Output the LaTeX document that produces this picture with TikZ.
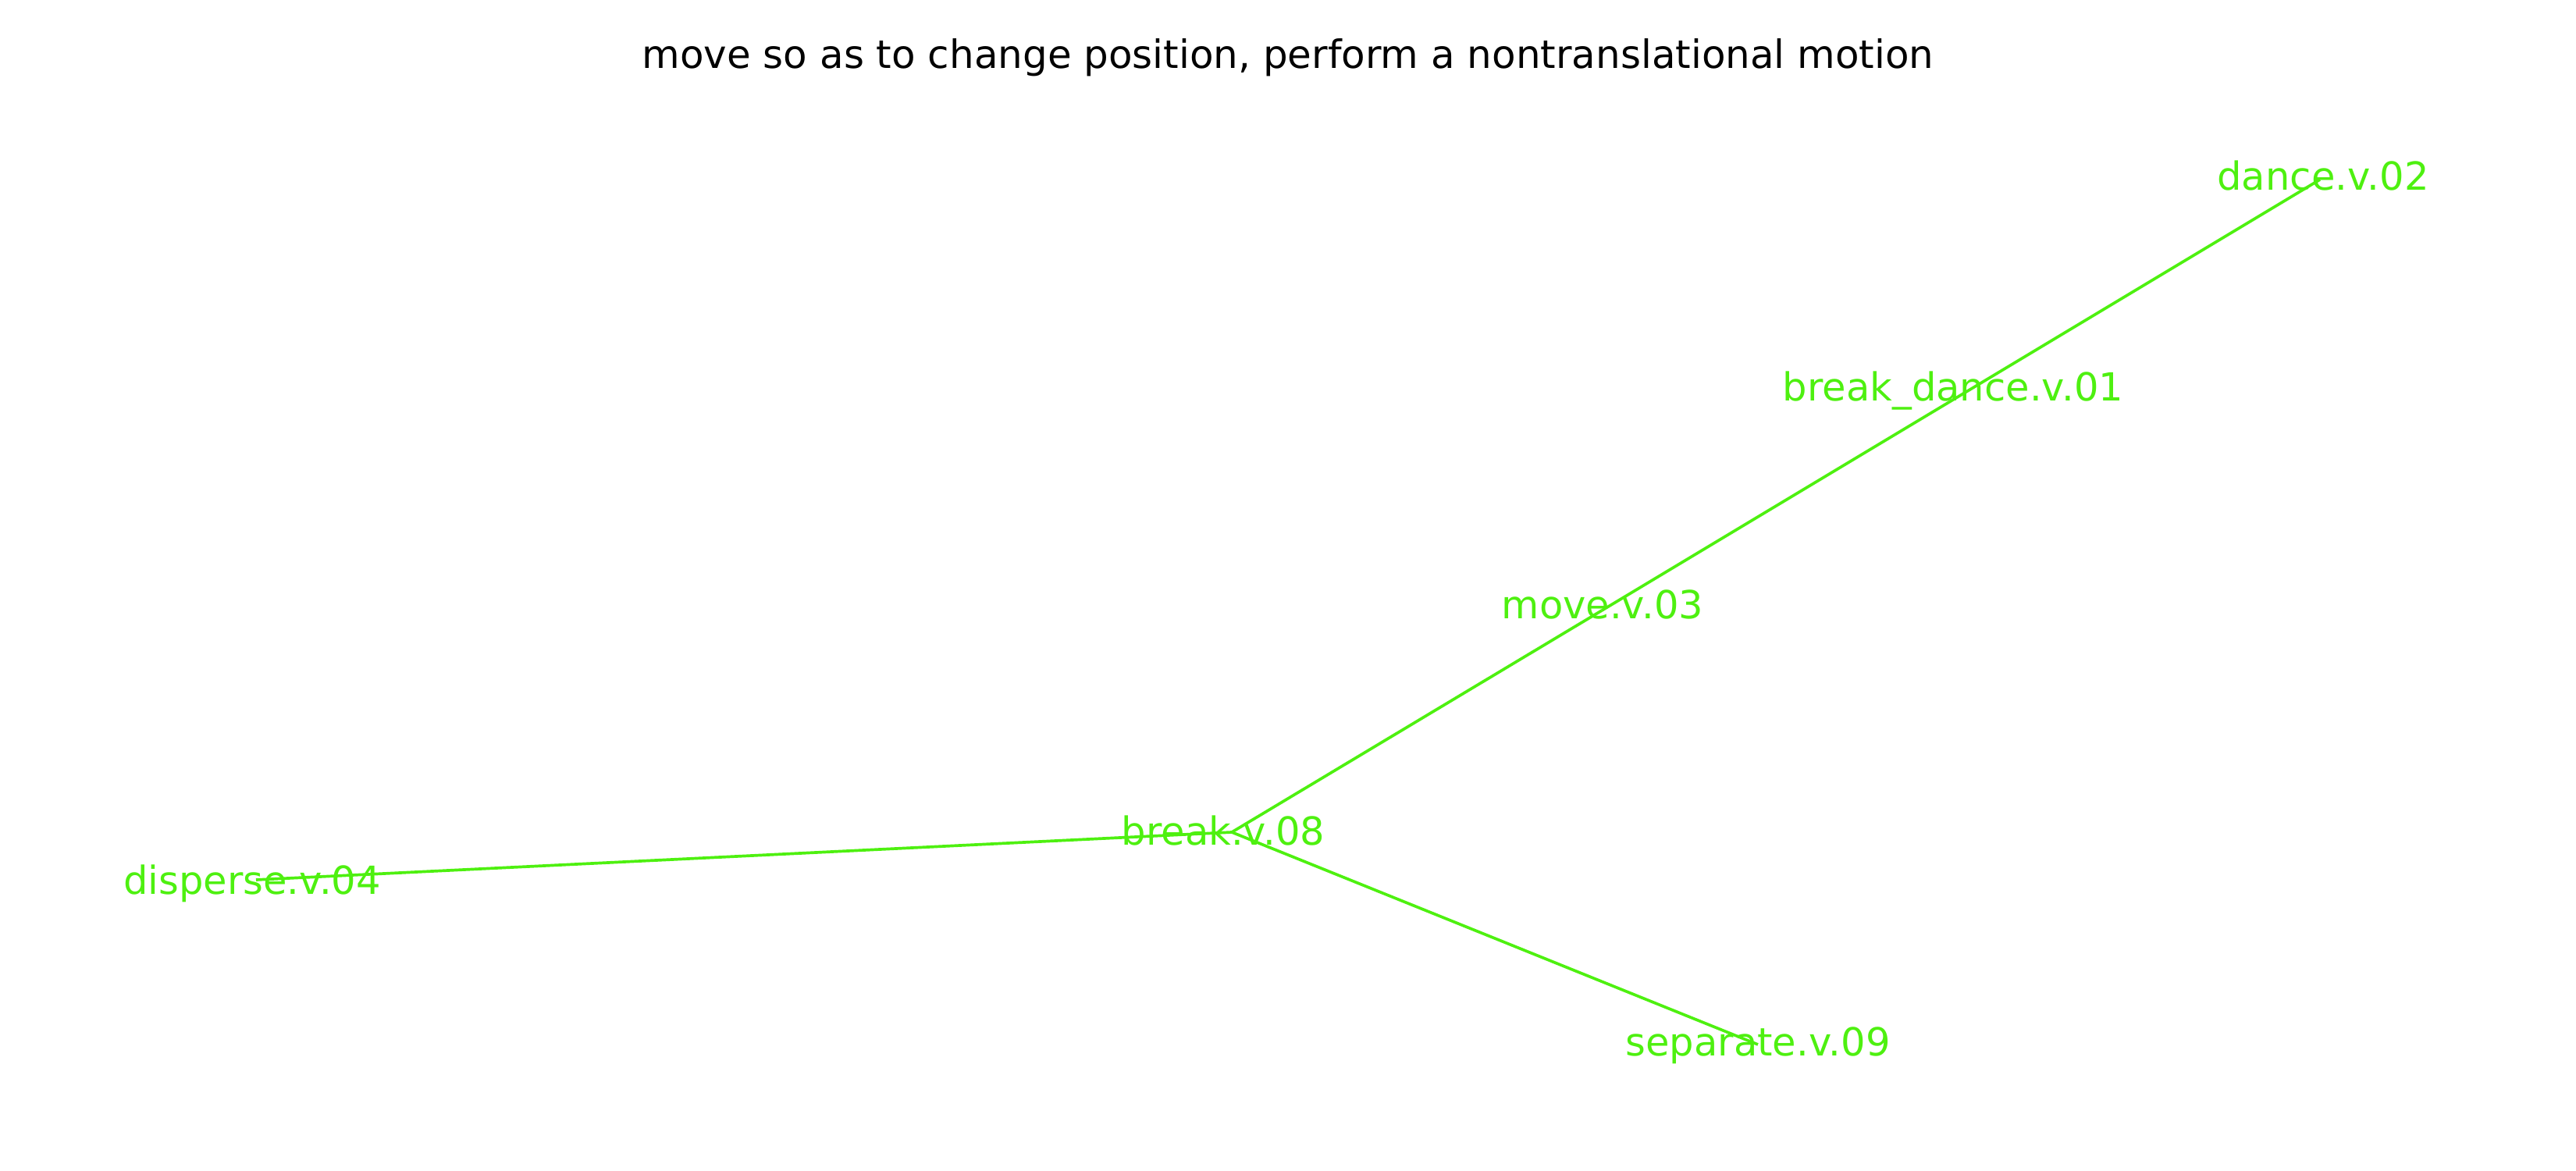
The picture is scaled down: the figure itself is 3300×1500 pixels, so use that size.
\documentclass[tikz,border=0pt]{standalone}
\usepackage{fontspec}
\setmainfont{DejaVu Sans}
\definecolor{lime}{RGB}{78,240,16}
\begin{document}
\begin{tikzpicture}[x=0.01cm,y=-0.01cm,
  lbl/.style={text=lime,font=\fontsize{14.1pt}{17pt}\selectfont,inner sep=0pt,anchor=base},
  ttl/.style={text=black,font=\fontsize{14.2pt}{17pt}\selectfont,inner sep=0pt,anchor=base},
  edge/.style={draw=lime,line width=1.05pt}]
\useasboundingbox (0,0) rectangle (3300,1500);
% graph points
\coordinate (pbreak) at (1578,1066);
\coordinate (pdisp) at (328,1127);
\coordinate (psep) at (2252,1338);
\coordinate (pdance) at (2972,230);
\coordinate (pmove) at (2052,782);
\coordinate (pbd) at (2502,512);
% edges
\draw[edge] (pbreak) -- (pmove);
\draw[edge] (pmove) -- (pbd);
\draw[edge] (pbd) -- (pdance);
\draw[edge] (pbreak) -- (pdisp);
\draw[edge] (pbreak) -- (psep);
% labels
\node[ttl] (title) at (1650,88) {move so as to change position, perform a nontranslational motion};
\node[lbl] (lbreak) at (1567,1082) {break.v.08};
\node[lbl] (ldisp) at (323,1145) {disperse.v.04};
\node[lbl] (lsep) at (2252,1352) {separate.v.09};
\node[lbl] (ldance) at (2976,243) {dance.v.02};
\node[lbl] (lbd) at (2502,513) {break\_dance.v.01};
\node[lbl] (lmove) at (2053,792) {move.v.03};
\end{tikzpicture}
\end{document}
